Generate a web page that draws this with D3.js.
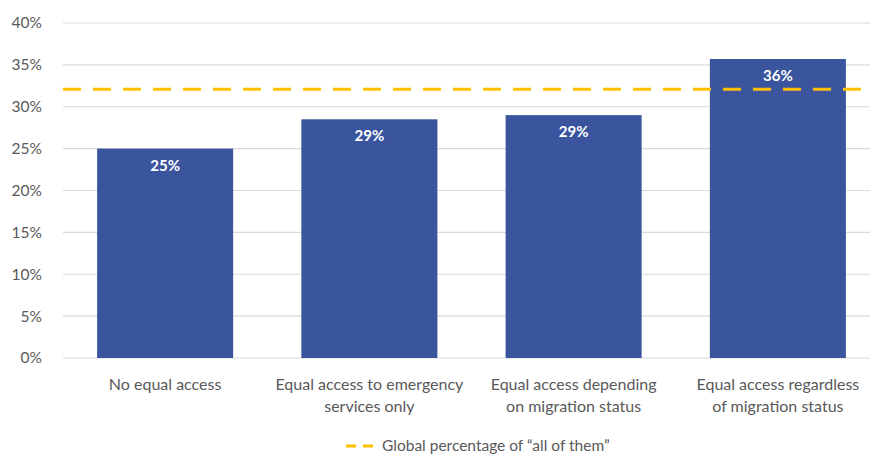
<!DOCTYPE html>
<html><head><meta charset="utf-8">
<script src="https://cdn.jsdelivr.net/npm/d3@7/dist/d3.min.js"></script>
<style>body{margin:0;background:#fff}svg{display:block}</style>
</head><body>
<svg id="c" width="870" height="455"></svg>
<script>
const categories = [["No equal access"],["Equal access to emergency","services only"],["Equal access depending","on migration status"],["Equal access regardless","of migration status"]];
const values = [25.0, 28.5, 29.0, 35.7];
const valueLabels = ["25%","29%","29%","36%"];
const globalValue = 32.1;
const yTicks = [0,5,10,15,20,25,30,35,40];
const legendLabel = "Global percentage of “all of them”";

const font = "Lato, 'Open Sans', sans-serif";
const svg = d3.select("#c");
const x = d3.scaleBand().domain(d3.range(categories.length)).range([63, 880]).paddingInner(0.334).paddingOuter(0.167);
const y = d3.scaleLinear().domain([0, 40]).range([358, 23]);

// gridlines
svg.append("g").selectAll("line").data(yTicks).join("line")
  .attr("x1", 63).attr("x2", 870).attr("y1", d => y(d)).attr("y2", d => y(d))
  .attr("stroke", "#d9d9d9").attr("stroke-width", 1.2);

// y labels
const yAxis = d3.axisLeft(y).tickValues(yTicks).tickFormat(d => d + "%").tickSize(0).tickPadding(0);
const ga = svg.append("g").attr("transform", "translate(42,0)").call(yAxis);
ga.select(".domain").remove();
ga.selectAll("text").attr("font-family", font).attr("font-size", 15.5).attr("fill", "#595959");

// bars
svg.append("g").selectAll("rect").data(values).join("rect")
  .attr("x", (d,i) => x(i)).attr("width", x.bandwidth())
  .attr("y", d => y(d)).attr("height", d => y(0) - y(d))
  .attr("fill", "#3A559D");

// value labels
svg.append("g").selectAll("text").data(values).join("text")
  .attr("x", (d,i) => x(i) + x.bandwidth()/2).attr("y", d => y(d) + 22)
  .attr("text-anchor", "middle").attr("font-family", font).attr("font-weight", "bold")
  .attr("font-size", 15).attr("fill", "#fff").text((d,i) => valueLabels[i]);

// global line
svg.append("line").attr("x1", 63).attr("x2", 870).attr("y1", y(globalValue)).attr("y2", y(globalValue))
  .attr("stroke", "#FFC000").attr("stroke-width", 3).attr("stroke-dasharray", "18,12");

// category labels
const cl = svg.append("g").selectAll("text").data(categories).join("text")
  .attr("x", (d,i) => x(i) + x.bandwidth()/2).attr("y", 390)
  .attr("text-anchor", "middle").attr("font-family", font).attr("font-size", 16).attr("fill", "#595959");
cl.selectAll("tspan").data(d => d).join("tspan")
  .attr("x", function(){ return this.parentNode.getAttribute("x"); })
  .attr("dy", (d,i) => i === 0 ? 0 : 22).text(d => d);

// legend
svg.append("line").attr("x1", 346).attr("x2", 373).attr("y1", 446).attr("y2", 446)
  .attr("stroke", "#FFC000").attr("stroke-width", 3).attr("stroke-dasharray", "10,7");
svg.append("text").attr("x", 382).attr("y", 451).attr("font-family", font).attr("font-size", 15.5)
  .attr("fill", "#595959").text(legendLabel);
</script>
</body></html>
